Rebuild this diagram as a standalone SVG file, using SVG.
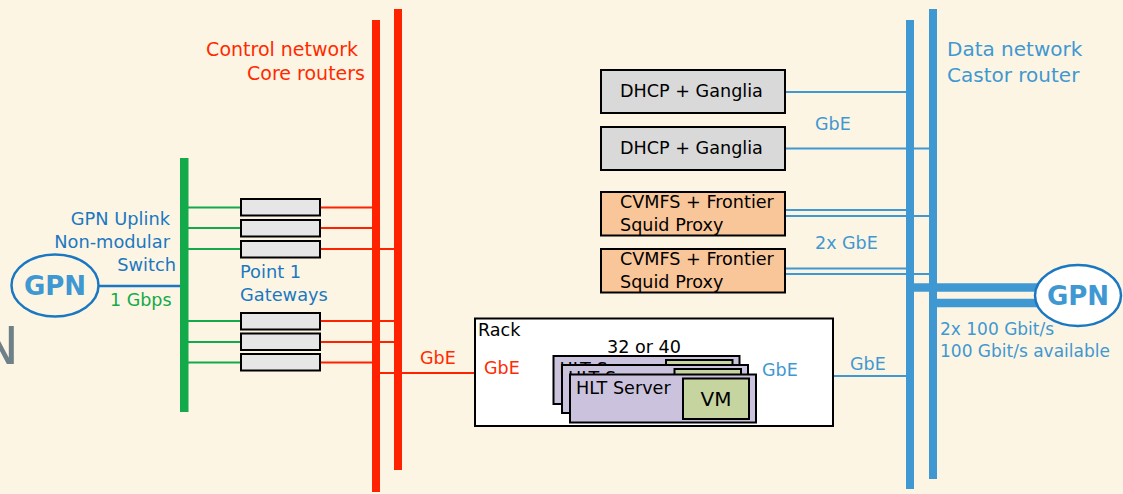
<svg xmlns="http://www.w3.org/2000/svg" width="1123" height="494" viewBox="0 0 1123 494">
  <defs>
    <style>
      text { font-family: "DejaVu Sans", "Liberation Sans", sans-serif; }
      .bg { fill: #fdf5e3; }
      .red { stroke: #ff2200; fill: none; }
      .grn { stroke: #12aa4a; fill: none; }
      .blu { stroke: #3f98d2; fill: none; }
      .dblu { stroke: #1a78c2; fill: none; }
      .gw { fill: #e6e6e6; stroke: #000; stroke-width: 2; }
      .svc { fill: #d9d9d9; stroke: #000; stroke-width: 2; }
      .sq { fill: #f9c699; stroke: #000; stroke-width: 2; }
      .hlt { fill: #cbc3dd; stroke: #000; stroke-width: 2; }
      .vm { fill: #c6d5a0; stroke: #000; stroke-width: 2; }
      .t-red { fill: #ff2a00; font-size: 17.5px; }
      .t-dblu { fill: #1a78c2; font-size: 17.8px; }
      .t-blu { fill: #3f98d2; font-size: 17.5px; }
      .t-grn { fill: #12aa4a; font-size: 17.5px; }
      .t-blk { fill: #000; font-size: 17.6px; }
    </style>
  </defs>

  <rect class="bg" x="0" y="0" width="1123" height="494"/>

  <!-- clipped title letter at the left margin -->
  <text x="19" y="364" text-anchor="end" style="font-size:52px;fill:#6e8088">N</text>

  <!-- connectors -->
  <g id="connectors">
    <!-- uplink -->
    <line class="dblu" x1="99" y1="286" x2="180" y2="286" stroke-width="2.5"/>
    <!-- switch to gateways -->
    <g class="grn" stroke-width="2">
      <line x1="188" y1="207.5" x2="241" y2="207.5"/>
      <line x1="188" y1="228" x2="241" y2="228"/>
      <line x1="188" y1="249" x2="241" y2="249"/>
      <line x1="188" y1="321" x2="241" y2="321"/>
      <line x1="188" y1="342" x2="241" y2="342"/>
      <line x1="188" y1="362.5" x2="241" y2="362.5"/>
    </g>
    <!-- gateways to core routers -->
    <g class="red" stroke-width="2">
      <line x1="320" y1="207.5" x2="372" y2="207.5"/>
      <line x1="320" y1="228" x2="372" y2="228"/>
      <line x1="320" y1="249" x2="394" y2="249"/>
      <line x1="320" y1="321" x2="394" y2="321"/>
      <line x1="320" y1="342" x2="394" y2="342"/>
      <line x1="320" y1="362.5" x2="372" y2="362.5"/>
      <line x1="380" y1="373" x2="475" y2="373"/>
      <!-- rack to servers -->
      <line x1="475" y1="379" x2="553" y2="379"/>
      <line x1="475" y1="388" x2="562" y2="388"/>
      <line x1="475" y1="397" x2="570" y2="397"/>
    </g>
    <!-- services to data network -->
    <g class="blu" stroke-width="2">
      <line x1="785" y1="92" x2="906" y2="92"/>
      <line x1="785" y1="148.5" x2="929" y2="148.5"/>
      <line x1="785" y1="210" x2="906" y2="210"/>
      <line x1="785" y1="216" x2="929" y2="216"/>
      <line x1="785" y1="268.5" x2="906" y2="268.5"/>
      <line x1="785" y1="274" x2="929" y2="274"/>
      <!-- servers to rack edge -->
      <line x1="739" y1="380" x2="833" y2="380"/>
      <line x1="747" y1="389" x2="833" y2="389"/>
      <line x1="756" y1="398" x2="833" y2="398"/>
      <line x1="833" y1="376" x2="906" y2="376"/>
    </g>
    <!-- uplinks to GPN -->
    <g class="blu" stroke-width="8.5">
      <line x1="906" y1="287.5" x2="1040" y2="287.5"/>
      <line x1="929" y1="303" x2="1040" y2="303"/>
    </g>
  </g>

  <!-- core routers (control network) -->
  <g id="control-routers">
    <rect x="372" y="20" width="8" height="472" fill="#ff2200"/>
    <rect x="394" y="9" width="8" height="461" fill="#ff2200"/>
    <text class="t-red" x="358" y="56" text-anchor="end" style="font-size:19px">Control network</text>
    <text class="t-red" x="365" y="80" text-anchor="end" style="font-size:19px">Core routers</text>
  </g>

  <!-- castor routers (data network) -->
  <g id="data-routers">
    <rect x="906" y="20" width="8" height="469" fill="#3f98d2"/>
    <rect x="929" y="9" width="8" height="470" fill="#3f98d2"/>
    <text class="t-blu" x="947" y="56" style="font-size:20px">Data network</text>
    <text class="t-blu" x="947" y="82" style="font-size:20px">Castor router</text>
  </g>

  <!-- GPN uplink switch -->
  <g id="gpn-switch">
    <rect x="180" y="158" width="8.5" height="254" fill="#12aa4a"/>
    <text class="t-dblu" x="170" y="225" text-anchor="end">GPN Uplink</text>
    <text class="t-dblu" x="170" y="248" text-anchor="end">Non-modular</text>
    <text class="t-dblu" x="176" y="271" text-anchor="end">Switch</text>
    <text class="t-grn" x="110" y="306">1 Gbps</text>
  </g>

  <!-- GPN (left) -->
  <g id="gpn-left">
    <ellipse cx="55" cy="285.5" rx="43.5" ry="31" fill="none" stroke="#1a78c2" stroke-width="2.5"/>
    <text x="55" y="295" text-anchor="middle" style="font-size:26px;font-weight:bold;fill:#3f98d2">GPN</text>
  </g>

  <!-- point 1 gateways -->
  <g id="gateways">
    <rect class="gw" x="241" y="199" width="79" height="16.5"/>
    <rect class="gw" x="241" y="220" width="79" height="16.5"/>
    <rect class="gw" x="241" y="241" width="79" height="16.5"/>
    <rect class="gw" x="241" y="313" width="79" height="16.5"/>
    <rect class="gw" x="241" y="333.5" width="79" height="16.5"/>
    <rect class="gw" x="241" y="354" width="79" height="16.5"/>
    <text class="t-dblu" x="240" y="278">Point 1</text>
    <text class="t-dblu" x="240" y="301">Gateways</text>
  </g>

  <text class="t-red" x="420" y="364">GbE</text>

  <!-- services -->
  <g id="dhcp-1">
    <rect class="svc" x="601" y="70" width="184" height="43"/>
    <text class="t-blk" x="620" y="97">DHCP + Ganglia</text>
  </g>
  <g id="dhcp-2">
    <rect class="svc" x="601" y="127" width="184" height="43"/>
    <text class="t-blk" x="620" y="154">DHCP + Ganglia</text>
  </g>
  <g id="squid-1">
    <rect class="sq" x="601" y="192" width="184" height="43.5"/>
    <text class="t-blk" x="620" y="208">CVMFS + Frontier</text>
    <text class="t-blk" x="620" y="231">Squid Proxy</text>
  </g>
  <g id="squid-2">
    <rect class="sq" x="601" y="249" width="184" height="43.5"/>
    <text class="t-blk" x="620" y="265">CVMFS + Frontier</text>
    <text class="t-blk" x="620" y="288">Squid Proxy</text>
  </g>
  <text class="t-blu" x="815" y="130">GbE</text>
  <text class="t-blu" x="815" y="249">2x GbE</text>

  <!-- rack of HLT servers -->
  <g id="rack">
    <rect x="475" y="318.5" width="358" height="107.5" fill="#fff" stroke="#000" stroke-width="2"/>
    <text class="t-blk" x="478" y="336">Rack</text>
    <text class="t-blk" x="644" y="353" text-anchor="middle">32 or 40</text>
    <text class="t-red" x="484" y="374">GbE</text>
    <text class="t-blu" x="762" y="376">GbE</text>
  </g>
  <g id="hlt-3">
    <rect class="hlt" x="553.5" y="356" width="186" height="48"/>
    <text class="t-blk" x="559.5" y="375">HLT Server</text>
    <rect class="vm" x="666" y="360" width="66.5" height="40.5"/>
  </g>
  <g id="hlt-2">
    <rect class="hlt" x="562" y="365" width="186" height="48"/>
    <text class="t-blk" x="568" y="384">HLT Server</text>
    <rect class="vm" x="674.5" y="369" width="66.5" height="40.5"/>
  </g>
  <g id="hlt-1">
    <rect class="hlt" x="570" y="374.5" width="186" height="48"/>
    <text class="t-blk" x="576" y="393.5">HLT Server</text>
    <rect class="vm" x="683" y="378.5" width="66" height="40.5"/>
    <text class="t-blk" x="716" y="406" text-anchor="middle" style="font-size:20px">VM</text>
  </g>
  <text class="t-blu" x="850" y="370">GbE</text>

  <!-- GPN (right) -->
  <g id="gpn-right">
    <ellipse cx="1078" cy="295.5" rx="43" ry="30.5" fill="#fff" stroke="#1a78c2" stroke-width="2.5"/>
    <text x="1078" y="305" text-anchor="middle" style="font-size:26px;font-weight:bold;fill:#3f98d2">GPN</text>
    <text class="t-blu" x="940" y="335" style="font-size:17px">2x 100 Gbit/s</text>
    <text class="t-blu" x="940" y="357" style="font-size:17px">100 Gbit/s available</text>
  </g>
</svg>
